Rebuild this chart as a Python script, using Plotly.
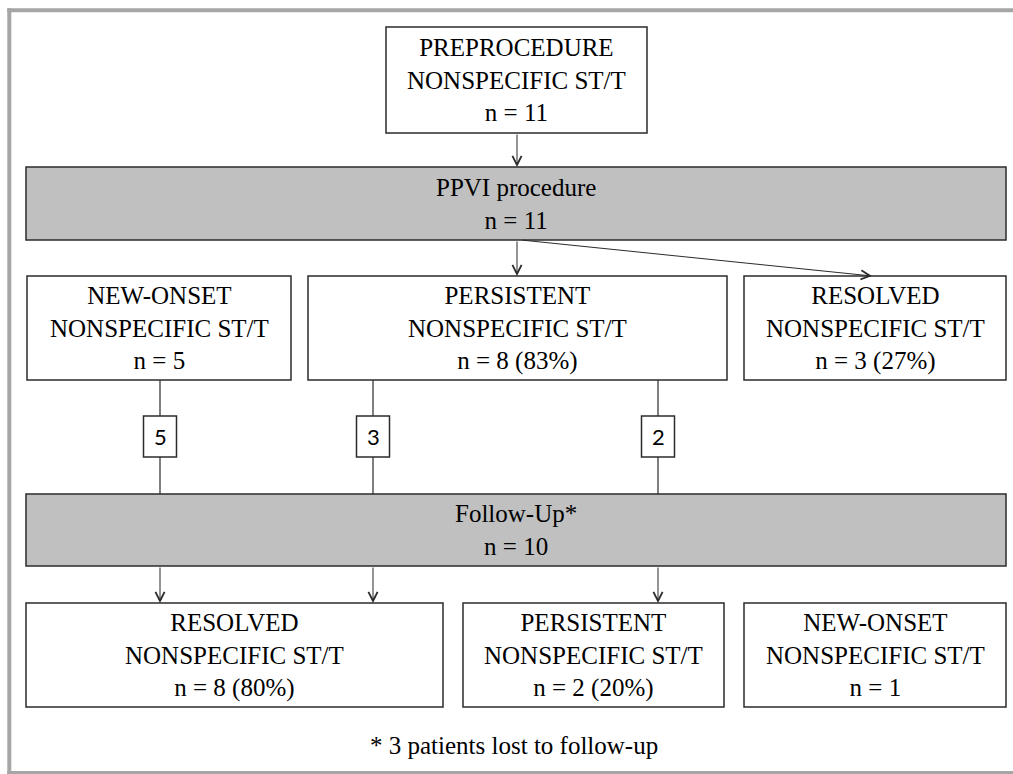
import plotly.graph_objects as go

# ---------------- data ----------------
pre_title = "PREPROCEDURE"
pre_n = 11
procedure_title = "PPVI procedure"
procedure_n = 11
post_categories = ["NEW-ONSET", "PERSISTENT", "RESOLVED"]
post_counts = [5, 8, 3]
post_pcts = ["", "83%", "27%"]
transition_counts = [5, 3, 2]
followup_title = "Follow-Up*"
followup_n = 10
fu_categories = ["RESOLVED", "PERSISTENT", "NEW-ONSET"]
fu_counts = [8, 2, 1]
fu_pcts = ["80%", "20%", ""]
lost_to_followup = 3
subtitle = "NONSPECIFIC ST/T"

# ---------------- layout geometry (pixels) ----------------
W, H = 1013, 774
SERIF = "Liberation Serif, Times New Roman, serif"
SANS = "Lato, Carlito, Liberation Sans, sans-serif"
FS = 25
BOX_LINE = dict(color="#2b2b2b", width=1.5)
GRAY = "#c0c0c0"

pre_box = (386, 27, 647, 133)
proc_bar = (26, 167, 1006, 240)
post_boxes = [(27, 276, 291, 380), (308, 276, 727, 380), (744, 276, 1006, 380)]
conn_x = [160, 373, 658]
small_w, small_top, small_bot = 33, 416, 457
fu_bar = (26, 494, 1006, 566)
fu_boxes = [(26, 603, 443, 707), (463, 603, 724, 707), (744, 603, 1006, 707)]
fu_arrow_x = [160, 373, 658]
proc_arrow_x = 517

fig = go.Figure()
shapes = []
annotations = []


def rect(b, fill="white", line=BOX_LINE):
    shapes.append(dict(type="rect", xref="x", yref="y", x0=b[0], y0=b[1], x1=b[2], y1=b[3],
                       fillcolor=fill, line=line, layer="above"))


def label(b, text, size=FS, font=SERIF):
    annotations.append(dict(x=(b[0] + b[2]) / 2, y=(b[1] + b[3]) / 2, xref="x", yref="y",
                            text=text, showarrow=False, xanchor="center", yanchor="middle",
                            font=dict(family=font, size=size, color="black")))


def arrow(x0, y0, x1, y1):
    annotations.append(dict(x=x1, y=y1, ax=x0, ay=y0, xref="x", yref="y", axref="x", ayref="y",
                            text="", showarrow=True, arrowhead=5, arrowsize=1.8, arrowwidth=1,
                            arrowcolor="#2b2b2b", standoff=0, startstandoff=0))


def seg(x0, y0, x1, y1, color="#2b2b2b", width=1.2, ref="x"):
    shapes.append(dict(type="line", xref=ref, yref="y", x0=x0, x1=x1, y0=y0, y1=y1,
                       line=dict(color=color, width=width), layer="above"))


# outer frame (open on the right, as in the source image)
FRAME = "#a6a6a6"
seg(9.3, 8.3, 9.3, 774, FRAME, 4)
seg(7.3, 10.3, 1040, 10.3, FRAME, 4)
seg(7.3, 772.5, 1040, 772.5, FRAME, 3)

# top box
rect(pre_box)
label(pre_box, f"{pre_title}<br>{subtitle}<br>n = {pre_n}")
arrow(proc_arrow_x, pre_box[3], proc_arrow_x, proc_bar[1])

# procedure bar
rect(proc_bar, fill=GRAY)
label(proc_bar, f"{procedure_title}<br>n = {procedure_n}")

# arrows to post boxes
arrow(proc_arrow_x, proc_bar[3], proc_arrow_x, post_boxes[1][1])
arrow(proc_arrow_x + 4, proc_bar[3], 872, post_boxes[2][1])

for b, cat, n, p in zip(post_boxes, post_categories, post_counts, post_pcts):
    rect(b)
    ntxt = f"n = {n}" + (f" ({p})" if p else "")
    label(b, f"{cat}<br>{subtitle}<br>{ntxt}")

# transitions with small count boxes
for x, c in zip(conn_x, transition_counts):
    seg(x, post_boxes[0][3], x, small_top)
    seg(x, small_bot, x, fu_bar[1])
    sb = (x - small_w / 2, small_top, x + small_w / 2, small_bot)
    rect(sb)
    label(sb, str(c), size=22, font=SANS)

# follow-up bar
rect(fu_bar, fill=GRAY)
label(fu_bar, f"{followup_title}<br>n = {followup_n}")

for x in fu_arrow_x:
    arrow(x, fu_bar[3], x, fu_boxes[0][1])

for b, cat, n, p in zip(fu_boxes, fu_categories, fu_counts, fu_pcts):
    rect(b)
    ntxt = f"n = {n}" + (f" ({p})" if p else "")
    label(b, f"{cat}<br>{subtitle}<br>{ntxt}")

# footnote
annotations.append(dict(x=514, y=745, xref="x", yref="y", showarrow=False,
                        text=f"* {lost_to_followup} patients lost to follow-up",
                        font=dict(family=SERIF, size=FS, color="black"),
                        xanchor="center", yanchor="middle"))

fig.update_layout(
    width=W, height=H,
    margin=dict(l=0, r=0, t=0, b=0),
    paper_bgcolor="white", plot_bgcolor="white",
    xaxis=dict(range=[0, W], visible=False, fixedrange=True, showline=False),
    yaxis=dict(range=[H, 0], visible=False, fixedrange=True, showline=False),
    shapes=shapes, annotations=annotations, showlegend=False,
)

fig.write_html("out.html", config={"displayModeBar": False},
               post_script="document.body.style.margin='0px';document.body.style.overflow='hidden';")
